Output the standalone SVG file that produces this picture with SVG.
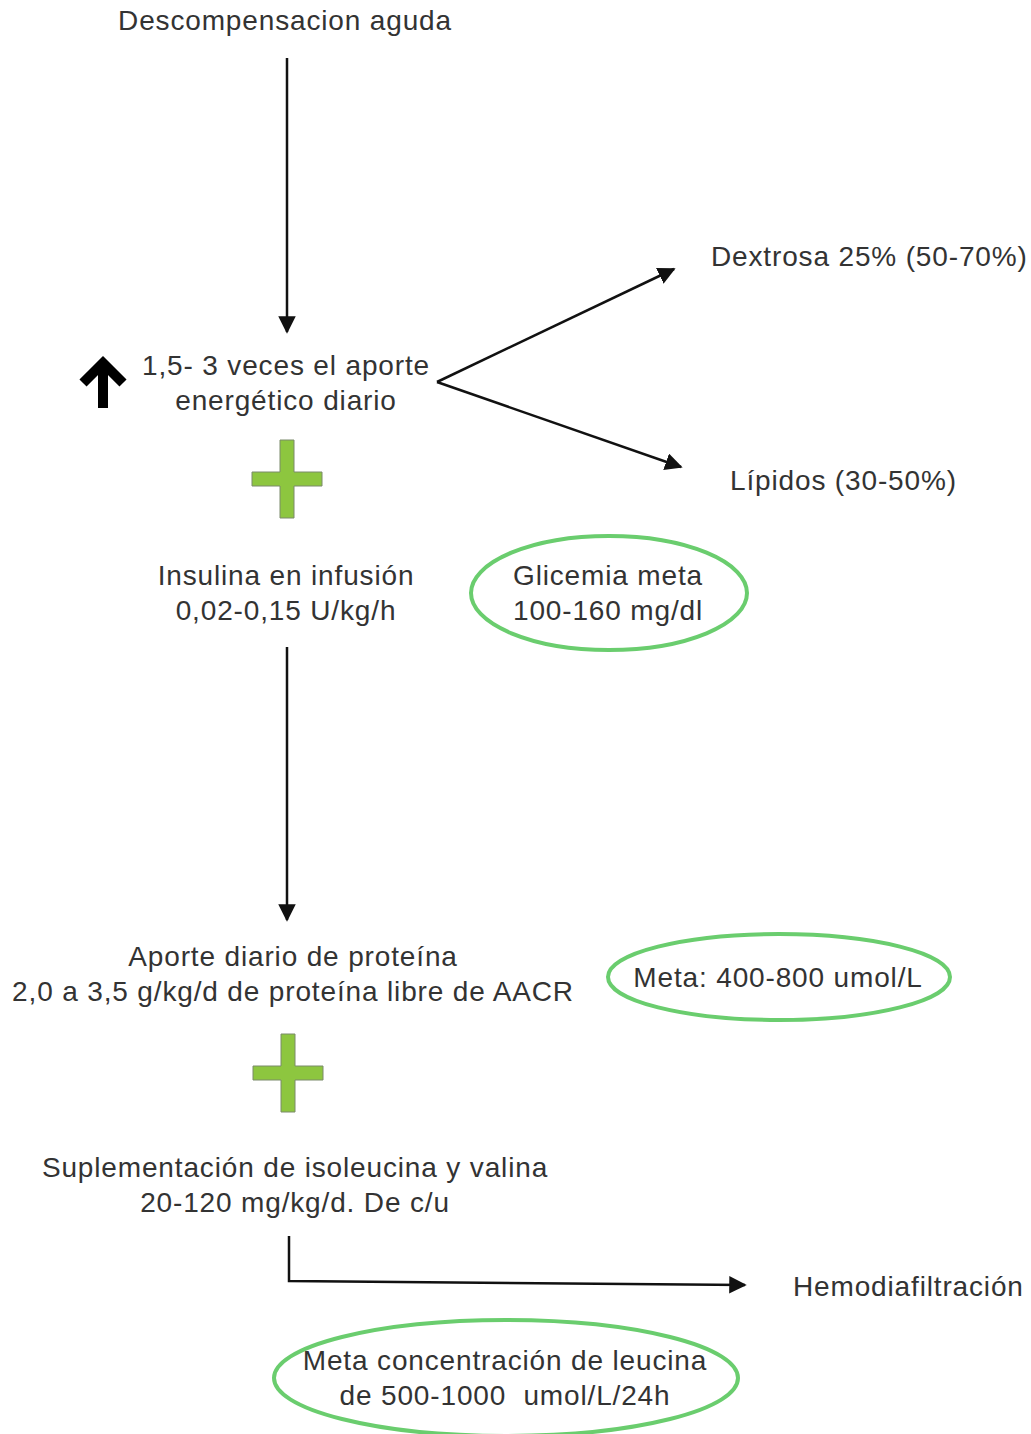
<svg xmlns="http://www.w3.org/2000/svg" width="1031" height="1434" viewBox="0 0 1031 1434">
<style>
text{font-family:"Liberation Sans",Arial,sans-serif;font-size:28px;letter-spacing:0.85px;fill:#333}
.c{text-anchor:middle}
.line{stroke:#111;stroke-width:2.5;fill:none}
.goal{fill:none;stroke:#6acd6e;stroke-width:4}
.plus{fill:#8dc63f;stroke:#7a8a6a;stroke-width:1}
</style>
<defs>
<marker id="ah" viewBox="0 0 10 10" refX="9" refY="5" markerWidth="7" markerHeight="7" markerUnits="strokeWidth" orient="auto">
<path d="M0,0 L10,5 L0,10 z" fill="#111"/>
</marker>
</defs>
<rect width="1031" height="1434" fill="#fff"/>
<g id="connectors">
<line class="line" x1="287" y1="58" x2="287" y2="332" marker-end="url(#ah)"/>
<line class="line" x1="437" y1="382" x2="674" y2="269" marker-end="url(#ah)"/>
<line class="line" x1="437" y1="382" x2="681" y2="467" marker-end="url(#ah)"/>
<line class="line" x1="287" y1="647" x2="287" y2="920" marker-end="url(#ah)"/>
<polyline class="line" points="289,1236 289,1281 745,1285" marker-end="url(#ah)"/>
</g>
<g id="n-descomp"><text class="c" x="285" y="30">Descompensacion aguda</text></g>
<g id="n-aporte">
<g stroke="#000" fill="none" stroke-linecap="butt">
<polyline points="83,383 103,363 123,383" stroke-width="10" stroke-linejoin="miter"/>
<line x1="103" y1="364" x2="103" y2="408" stroke-width="10"/>
</g>
<text class="c" x="286" y="375">1,5- 3 veces el aporte</text>
<text class="c" x="286" y="410">energético diario</text>
</g>
<g id="n-dextrosa"><text x="711" y="266">Dextrosa 25% (50-70%)</text></g>
<g id="n-lipidos"><text x="730" y="490">Lípidos (30-50%)</text></g>
<g id="plus1"><path class="plus" d="M280,440 H294 V472 H322 V486 H294 V518 H280 V486 H252 V472 H280 Z"/></g>
<g id="n-insulina">
<text class="c" x="286" y="585">Insulina en infusión</text>
<text class="c" x="286" y="620">0,02-0,15 U/kg/h</text>
</g>
<g id="n-glicemia">
<ellipse class="goal" cx="609" cy="593" rx="138" ry="57"/>
<text class="c" x="608" y="585">Glicemia meta</text>
<text class="c" x="608" y="620">100-160 mg/dl</text>
</g>
<g id="n-proteina">
<text class="c" x="293" y="966">Aporte diario de proteína</text>
<text class="c" x="293" y="1001">2,0 a 3,5 g/kg/d de proteína libre de AACR</text>
</g>
<g id="n-meta1">
<ellipse class="goal" cx="779" cy="977" rx="171" ry="43"/>
<text class="c" x="778" y="987">Meta: 400-800 umol/L</text>
</g>
<g id="plus2"><path class="plus" d="M281,1034 H295 V1066 H323 V1080 H295 V1112 H281 V1080 H253 V1066 H281 Z"/></g>
<g id="n-suplementacion">
<text class="c" x="295" y="1177">Suplementación de isoleucina y valina</text>
<text class="c" x="295" y="1212">20-120 mg/kg/d. De c/u</text>
</g>
<g id="n-hemo"><text x="793" y="1296">Hemodiafiltración</text></g>
<g id="n-leucina">
<ellipse class="goal" cx="506" cy="1378" rx="232" ry="58"/>
<text class="c" x="505" y="1370">Meta concentración de leucina</text>
<text class="c" x="505" y="1405" xml:space="preserve">de 500-1000  umol/L/24h</text>
</g>
</svg>
